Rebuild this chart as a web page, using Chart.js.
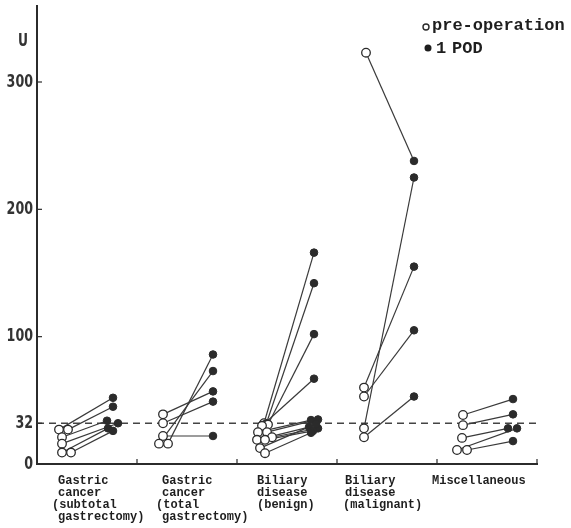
<!DOCTYPE html>
<html>
<head>
<meta charset="utf-8">
<script src="https://cdn.jsdelivr.net/npm/chart.js@4/dist/chart.umd.min.js"></script>
<style>
  html, body { margin: 0; padding: 0; background: #fff; }
  #wrap { width: 571px; height: 528px; }
</style>
</head>
<body>
<div id="wrap"><canvas id="chart" width="571" height="528"></canvas></div>
<script>
// category labels under the x axis (one array of lines per group)
const groupLabels = [
    ['Gastric', 'cancer', '(subtotal', 'gastrectomy)'],
    ['Gastric', 'cancer', '(total', 'gastrectomy)'],
    ['Biliary', 'disease', '(benign)'],
    ['Biliary', 'disease', '(malignant)'],
    ['Miscellaneous']
];
const yTicks = [0, 32, 100, 200, 300];
const refLevel = 32;

// one entry per patient: x position inside its group, value before and on 1 POD
const preX  = [0.22, 0.31, 0.25, 0.25, 0.25, 0.34,
               1.26, 1.26, 1.26, 1.22, 1.31,
               2.27, 2.29, 2.31, 2.25, 2.21, 2.30, 2.20, 2.35, 2.28, 2.23, 2.28,
               3.29, 3.27, 3.27, 3.27, 3.27,
               4.26, 4.26, 4.25, 4.20, 4.30];
const preU  = [27, 27, 21, 16, 9, 9,
               39, 32, 22, 16, 16,
               32, 31, 31, 30, 25, 25, 19, 21, 19, 12.5, 8.5,
               323, 60, 53, 28, 21,
               38.5, 30.5, 20.5, 11, 11];
const postX = [0.76, 0.76, 0.70, 0.81, 0.71, 0.76,
               1.76, 1.76, 1.76, 1.76, 1.76,
               2.77, 2.77, 2.77, 2.77, 2.74, 2.81, 2.72, 2.81, 2.76, 2.79, 2.74,
               3.77, 3.77, 3.77, 3.77, 3.77,
               4.76, 4.76, 4.71, 4.80, 4.76];
const postU = [52, 45, 34, 32, 28, 26,
               57, 49, 22, 73, 86,
               166, 142, 102, 67, 34.5, 35, 29, 28, 26, 31.5, 24.5,
               238, 155, 105, 225, 53,
               51, 39, 28, 28, 18];

const ink = '#2b2b2b';
const monoFont = '"Liberation Mono", "DejaVu Sans Mono", monospace';
const tickFont = 'bold 18px "DejaVu Sans Condensed", "DejaVu Sans", sans-serif';

const datasets = [
    {
        data: preX.map((x, i) => ({ x: x, y: preU[i] })),
        pointRadius: 4.3,
        pointBackgroundColor: '#fff',
        pointBorderColor: ink,
        pointBorderWidth: 1.3,
        showLine: false,
        order: 0
    },
    {
        data: postX.map((x, i) => ({ x: x, y: postU[i] })),
        pointRadius: 3.8,
        pointBackgroundColor: ink,
        pointBorderColor: ink,
        pointBorderWidth: 1,
        showLine: false,
        order: 0
    },
    {
        data: [{ x: 0, y: refLevel }, { x: 5, y: refLevel }],
        showLine: true,
        borderColor: '#444',
        borderWidth: 1.3,
        borderDash: [7, 5],
        pointRadius: 0,
        order: 2
    }
];
preX.forEach((x, i) => {
    datasets.push({
        data: [{ x: x, y: preU[i] }, { x: postX[i], y: postU[i] }],
        showLine: true,
        borderColor: '#3a3a3a',
        borderWidth: 1.2,
        pointRadius: 0,
        order: 1
    });
});

// narrow text: squeeze horizontally so each character is about perChar wide
function narrowText(ctx, text, right, cy, perChar) {
    const w = ctx.measureText(text).width;
    const k = Math.min(1, perChar * text.length / w);
    ctx.save();
    ctx.translate(right, cy);
    ctx.scale(k, 1);
    ctx.fillText(text, 0, 0);
    ctx.restore();
}

// axis ticks pointing inward, tick labels, category labels, unit and legend
const decor = {
    id: 'decor',
    afterDraw(chart) {
        const { ctx, scales: { x, y } } = chart;
        ctx.save();
        ctx.strokeStyle = ink;
        ctx.lineWidth = 1.2;
        yTicks.slice(1).forEach(v => {
            const py = y.getPixelForValue(v);
            ctx.beginPath();
            ctx.moveTo(x.left, py);
            ctx.lineTo(x.left + 5, py);
            ctx.stroke();
        });
        [1, 2, 3, 4, 5].forEach(b => {
            const px = x.getPixelForValue(b);
            ctx.beginPath();
            ctx.moveTo(px, y.bottom);
            ctx.lineTo(px, y.bottom - 5);
            ctx.stroke();
        });

        ctx.fillStyle = '#333';
        ctx.font = tickFont;
        ctx.textAlign = 'right';
        ctx.textBaseline = 'middle';
        yTicks.forEach(v => narrowText(ctx, String(v), x.left - 4, y.getPixelForValue(v), 8.8));
        narrowText(ctx, 'U', x.left - 9, y.getPixelForValue(332), 10);

        ctx.fillStyle = '#1e1e1e';
        ctx.font = 'bold 12px ' + monoFont;
        ctx.textAlign = 'left';
        const labelLeft = [0.21, 1.25, 2.20, 3.08, 3.95];
        const parenShift = [-6, -6, 0, -2, 0];
        groupLabels.forEach((lines, g) => {
            const lx = x.getPixelForValue(labelLeft[g]);
            lines.forEach((t, k) => {
                const shift = t.startsWith('(') ? parenShift[g] : 0;
                ctx.fillText(t, lx + shift, y.bottom + 17 + k * 12);
            });
        });

        ctx.font = 'bold 17px ' + monoFont;
        ctx.lineWidth = 1.4;
        ctx.beginPath();
        ctx.arc(426, 27, 3, 0, Math.PI * 2);
        ctx.stroke();
        ctx.fillText('pre-operation', 432, 26);
        ctx.beginPath();
        ctx.arc(428, 48, 3.5, 0, Math.PI * 2);
        ctx.fill();
        ctx.fillText('1', 436, 49);
        ctx.fillText('POD', 452, 49);
        ctx.restore();
    }
};

new Chart(document.getElementById('chart').getContext('2d'), {
    type: 'scatter',
    data: { datasets: datasets },
    options: {
        responsive: false,
        animation: false,
        layout: { padding: { left: 0, right: 34, top: 5, bottom: 64 } },
        plugins: { legend: { display: false }, tooltip: { enabled: false } },
        scales: {
            x: {
                type: 'linear', min: 0, max: 5,
                ticks: { display: false },
                grid: { display: false },
                border: { color: ink, width: 2 },
                afterFit(s) { s.height = 0; }
            },
            y: {
                min: 0, max: 360,
                afterBuildTicks(s) { s.ticks = yTicks.map(v => ({ value: v })); },
                ticks: { display: false },
                grid: { display: false },
                border: { color: ink, width: 2 },
                afterFit(s) { s.width = 37; }
            }
        }
    },
    plugins: [decor]
});
</script>
</body>
</html>
